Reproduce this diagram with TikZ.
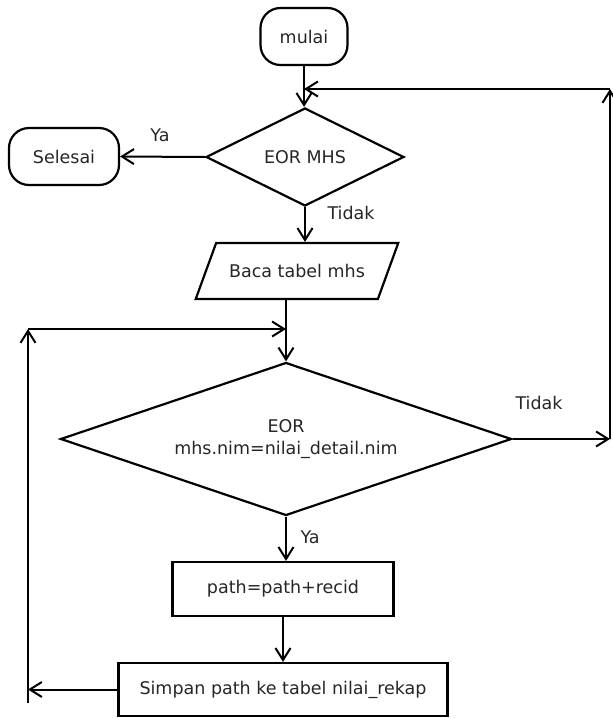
\documentclass[tikz,border=0pt]{standalone}
\usepackage{fontspec}
\setmainfont{DejaVu Sans}
\usetikzlibrary{arrows.meta,shapes.geometric}

\begin{document}
\begin{tikzpicture}[x=1pt, y=-1pt, font=\fontsize{17.5}{22}\selectfont]
    \tikzstyle{flow base} = [draw=black, line width=2.2pt, text=black!85, inner sep=0pt, align=center]
    \tikzstyle{flow terminal} = [flow base, rectangle, rounded corners=20pt, minimum height=57pt]
    \tikzstyle{flow decision} = [flow base, diamond]
    \tikzstyle{flow io} = [flow base, trapezium, trapezium left angle=70, trapezium right angle=110, text height=13.3pt, text depth=0pt, inner xsep=13pt, inner ysep=21.3pt]
    \tikzstyle{flow process} = [flow base, rectangle, minimum height=54pt]
    \tikzstyle{flow edge} = [draw=black, line width=2pt, -{Straight Barb[length=12pt,width=15pt,line width=2pt]}]
    \tikzstyle{flow label} = [text=black!85, inner sep=0pt]
\useasboundingbox (0,0) rectangle (613,718);
\node[flow terminal, minimum width=87pt] (mulai) at (304, 36.5) {mulai};
\node[flow terminal, minimum width=110pt] (selesai) at (64, 156.5) {Selesai};
\node[flow decision, aspect=2.02, minimum width=198pt, minimum height=98pt] (eor1) at (305, 157) {EOR MHS};
\node[flow io] (baca) at (297, 271) {Baca tabel mhs};
\node[flow decision, aspect=2.95, minimum width=451pt, minimum height=153pt] (eor2) at (286, 439) {EOR\\mhs.nim=nilai\_detail.nim};
\node[flow process, minimum width=221pt] (path) at (283, 589) {path=path+recid};
\node[flow process, minimum width=329pt, minimum height=53pt] (simpan) at (283, 689.5) {Simpan path ke tabel nilai\_rekap};
\node[flow label] (ya1) at (160, 135) {Ya};
\node[flow label] (tidak1) at (351, 213) {Tidak};
\node[flow label] (tidak2) at (539, 403) {Tidak};
\node[flow label] (ya2) at (310, 537) {Ya};
\coordinate (right loop) at (610, 89);
\coordinate (left loop) at (28, 329);
\coordinate (left loop end) at (28, 703);
\draw[flow edge] (mulai) -- (mulai |- eor1.north);
\draw[flow edge] (eor1.west) -- (selesai.east);
\draw[flow edge] (eor1.south) -- (eor1.south |- baca.north);
\draw[flow edge] (eor2.north |- baca.south) -- (eor2.north);
\draw[flow edge] (eor2.east) -- (eor2.east -| right loop);
\draw[flow edge] (eor2.east -| right loop) -- (right loop);
\draw[flow edge] (right loop) -- (right loop -| mulai);
\draw[flow edge] (eor2.south) -- (eor2.south |- path.north);
\draw[flow edge] (path) -- (simpan);
\draw[flow edge] (simpan.west) -- (simpan.west -| left loop);
\draw[flow edge] (left loop end) -- (left loop);
\draw[flow edge] (left loop) -- (left loop -| eor2.north);
\end{tikzpicture}
\end{document}
